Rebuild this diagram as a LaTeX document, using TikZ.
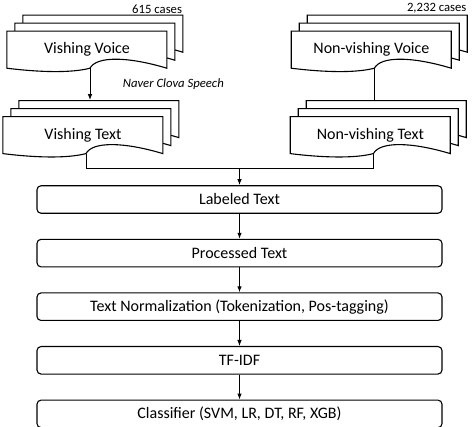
\documentclass[tikz,border=0pt]{standalone}
\usepackage{fontspec}
\setmainfont{Carlito}
\usetikzlibrary{positioning, calc, backgrounds, arrows.meta}

\tikzset{
  doc/.style={minimum width=160pt, minimum height=37pt, inner sep=0pt, font=\fontsize{16}{19}\selectfont},
  docline/.style={draw, fill=white, line width=1.1pt},
  box/.style={draw, line width=1.1pt, rounded corners=4pt, minimum width=405pt, minimum height=27.5pt, inner sep=0pt, font=\fontsize{16}{19}\selectfont},
  small/.style={font=\fontsize{12.7}{15}\selectfont},
  smallit/.style={font=\fontsize{12.7}{15}\selectfont\itshape},
  link/.style={line width=1pt},
}

% three stacked pages behind a document node
\newcommand{\docstack}[1]{%
  \begin{scope}[on background layer]
    \foreach \s in {16,8,0}{
      \draw[docline, shift={($(#1.south west)+(\s,\s)$)}]
        (0,37) -- (160,37) -- (160,0)
        .. controls (120,12) and (89.6,12) .. (83.2,0)
        .. controls (64,-5) and (32,-4) .. (0,0) -- cycle;
    }
  \end{scope}
  \coordinate (#1-b) at ($(#1.south west)+(83.2,0)$);
  \coordinate (#1-t) at ($(#1.north)+(0,16)$);
}

\begin{document}
\begin{tikzpicture}[x=1pt, y=1pt, node distance=25pt, >={Latex[length=6pt,width=4.5pt]}]
  \useasboundingbox (0,0) rectangle (474,426);

  \node[doc] (vvoice) at (87,376.5) {Vishing Voice};
  \node[doc, right=124pt of vvoice] (nvoice) {Non-vishing Voice};
  \node[doc, below=48pt of vvoice, xshift=-4pt] (vtext) {Vishing Text};
  \node[doc, below=48pt of nvoice, xshift=-1pt] (ntext) {Non-vishing Text};
  \docstack{vvoice}
  \docstack{nvoice}
  \docstack{vtext}
  \docstack{ntext}

  \node[small, anchor=south east, inner sep=1pt] (vcount) at ($(vvoice.north east)+(16,16)$) {615 cases};
  \node[small, anchor=south east, inner sep=1pt] (ncount) at ($(nvoice.north east)+(16,16)$) {2,232 cases};

  \node[box] (labeled) at (239.5,226.5) {Labeled Text};
  \node[box, below=of labeled] (processed) {Processed Text};
  \node[box, below=of processed] (normal) {Text Normalization (Tokenization, Pos-tagging)};
  \node[box, below=of normal] (tfidf) {TF-IDF};
  \node[box, below=of tfidf] (classify) {Classifier (SVM, LR, DT, RF, XGB)};

  \draw[link, ->] (vvoice-b) -- (vvoice-b |- vtext-t)
    node[midway, right=29pt, smallit] {Naver Clova Speech};
  \draw[link] (nvoice-b) -- (nvoice-b |- ntext-t);

  \coordinate (join) at ($(labeled.north)+(0,17)$);
  \draw[link] (vtext-b) |- (join) -| (ntext-b);
  \draw[link, ->] (join) -- (labeled);

  \draw[link, ->]
    (labeled) edge (processed)
    (processed) edge (normal)
    (normal) edge (tfidf)
    (tfidf) edge (classify);
\end{tikzpicture}
\end{document}
